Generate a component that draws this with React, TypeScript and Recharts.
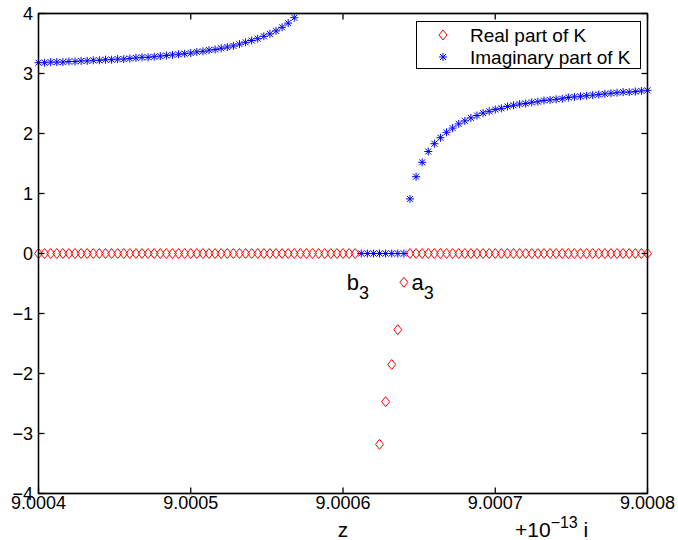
import React from 'react';
import { ScatterChart, Scatter, XAxis, YAxis, Label, ReferenceLine } from 'recharts';

// sample points along the real axis (z), step 4e-6
const Z_VALUES = [
  9.0004, 9.000404, 9.000408, 9.000412, 9.000416, 9.00042, 9.000424, 9.000428, 9.000432, 9.000436,
  9.00044, 9.000444, 9.000448, 9.000452, 9.000456, 9.00046, 9.000464, 9.000468, 9.000472, 9.000476,
  9.00048, 9.000484, 9.000488, 9.000492, 9.000496, 9.0005, 9.000504, 9.000508, 9.000512, 9.000516,
  9.00052, 9.000524, 9.000528, 9.000532, 9.000536, 9.00054, 9.000544, 9.000548, 9.000552, 9.000556,
  9.00056, 9.000564, 9.000568, 9.000572, 9.000576, 9.00058, 9.000584, 9.000588, 9.000592, 9.000596,
  9.0006, 9.000604, 9.000608, 9.000612, 9.000616, 9.00062, 9.000624, 9.000628, 9.000632, 9.000636,
  9.00064, 9.000644, 9.000648, 9.000652, 9.000656, 9.00066, 9.000664, 9.000668, 9.000672, 9.000676,
  9.00068, 9.000684, 9.000688, 9.000692, 9.000696, 9.0007, 9.000704, 9.000708, 9.000712, 9.000716,
  9.00072, 9.000724, 9.000728, 9.000732, 9.000736, 9.00074, 9.000744, 9.000748, 9.000752, 9.000756,
  9.00076, 9.000764, 9.000768, 9.000772, 9.000776, 9.00078, 9.000784, 9.000788, 9.000792, 9.000796,
  9.0008,
];

// null = off the plot
const REAL_PART = [
  0, 0, 0, 0, 0, 0, 0, 0, 0, 0,
  0, 0, 0, 0, 0, 0, 0, 0, 0, 0,
  0, 0, 0, 0, 0, 0, 0, 0, 0, 0,
  0, 0, 0, 0, 0, 0, 0, 0, 0, 0,
  0, 0, 0, 0, 0, 0, 0, 0, 0, 0,
  0, 0, 0, null, null, null, -3.18, -2.47, -1.85, -1.27,
  -0.48, 0, 0, 0, 0, 0, 0, 0, 0, 0,
  0, 0, 0, 0, 0, 0, 0, 0, 0, 0,
  0, 0, 0, 0, 0, 0, 0, 0, 0, 0,
  0, 0, 0, 0, 0, 0, 0, 0, 0, 0,
  0,
];

const IMAG_PART = [
  3.18, 3.18, 3.19, 3.19, 3.19, 3.20, 3.20, 3.21, 3.21, 3.22,
  3.22, 3.23, 3.23, 3.24, 3.24, 3.25, 3.26, 3.27, 3.27, 3.28,
  3.29, 3.30, 3.31, 3.32, 3.33, 3.34, 3.36, 3.37, 3.39, 3.40,
  3.42, 3.44, 3.46, 3.49, 3.52, 3.55, 3.58, 3.62, 3.66, 3.71,
  3.77, 3.84, 3.93, null, null, null, null, null, null, null,
  null, null, null, 0, 0, 0, 0, 0, 0, 0,
  0, 0.91, 1.28, 1.52, 1.70, 1.83, 1.93, 2.02, 2.09, 2.16,
  2.21, 2.26, 2.30, 2.34, 2.37, 2.40, 2.42, 2.45, 2.47, 2.49,
  2.50, 2.52, 2.53, 2.55, 2.56, 2.57, 2.58, 2.60, 2.61, 2.62,
  2.63, 2.64, 2.65, 2.66, 2.67, 2.68, 2.69, 2.69, 2.70, 2.71,
  2.72,
];

const X_DOMAIN = [9.0004, 9.0008];
const Y_DOMAIN = [-4, 4];
const X_TICKS = [9.0004, 9.0005, 9.0006, 9.0007, 9.0008];
const Y_TICKS = [-4, -3, -2, -1, 0, 1, 2, 3, 4];

const SERIES_NAMES = ['Real part of K', 'Imaginary part of K'];

// text annotations near the branch points
const ANNOTATIONS = [
  { z: 9.0006025, k: -0.6, main: 'b', sub: '3' },
  { z: 9.000645, k: -0.6, main: 'a', sub: '3' },
];

const FONT = '"Liberation Sans", Arial, Helvetica, sans-serif';
const RED = '#ff0000';
const BLUE = '#0000ff';
const TICK_LEN = 6;

// half-pixel offsets keep the frame crisp
const W = 678;
const H = 540;
const MARGIN = { top: 13.5, right: 30.5, bottom: 0, left: 0 };
const X_AXIS_H = 46.5;
const Y_AXIS_W = 38.5;
const PLOT_TOP = MARGIN.top;
const PLOT_RIGHT = W - MARGIN.right;
const PLOT_BOTTOM = H - MARGIN.bottom - X_AXIS_H;
const FRAME = { stroke: '#000', strokeWidth: 1.3 };

const toPoints = (vals: (number | null)[]) =>
  Z_VALUES.map((z, i) => ({ z, k: vals[i] })).filter((d) => d.k !== null);

const realData = toPoints(REAL_PART);
const imagData = toPoints(IMAG_PART);

const Diamond = ({ cx, cy }: any) => (
  <polygon
    points={`${cx},${cy - 5} ${cx + 4},${cy} ${cx},${cy + 5} ${cx - 4},${cy}`}
    fill="none"
    stroke={RED}
    strokeWidth={1}
  />
);

const Star = ({ cx, cy }: any) => (
  <g stroke={BLUE} strokeWidth={1}>
    <line x1={cx - 4} y1={cy} x2={cx + 4} y2={cy} />
    <line x1={cx} y1={cy - 4} x2={cx} y2={cy + 4} />
    <line x1={cx - 3} y1={cy - 3} x2={cx + 3} y2={cy + 3} />
    <line x1={cx - 3} y1={cy + 3} x2={cx + 3} y2={cy - 3} />
  </g>
);

const AnnotationText = ({ cx, cy, payload }: any) => (
  <text x={cx} y={cy} fontSize={22} fontFamily={FONT} fill="#000">
    {payload.main}
    <tspan fontSize={18} dy={9}>{payload.sub}</tspan>
  </text>
);

// inward ticks on both opposite sides, MATLAB style
const BottomTick = ({ x, y, payload }: any) => (
  <g>
    <line x1={x} y1={y} x2={x} y2={y - TICK_LEN} {...FRAME} />
    <line x1={x} y1={PLOT_TOP} x2={x} y2={PLOT_TOP + TICK_LEN} {...FRAME} />
    <text x={x} y={y + 1.5} dy="0.75em" textAnchor="middle" fontSize={18} fontFamily={FONT} fill="#000">
      {Number(payload.value).toFixed(4)}
    </text>
  </g>
);

const LeftTick = ({ x, y, payload }: any) => (
  <g>
    <line x1={x} y1={y} x2={x + TICK_LEN} y2={y} {...FRAME} />
    <line x1={PLOT_RIGHT} y1={y} x2={PLOT_RIGHT - TICK_LEN} y2={y} {...FRAME} />
    <text x={x - 5.5} y={y} dy="0.36em" textAnchor="end" fontSize={18} fontFamily={FONT} fill="#000">
      {String(payload.value).replace('-', '\u2212')}
    </text>
  </g>
);

const LegendBox = () => (
  <svg width={225} height={48} style={{ position: 'absolute', left: 416, top: 21 }}>
    <rect x={0.5} y={0.5} width={224} height={47} fill="#fff" stroke="#000" strokeWidth={1} />
    <Diamond cx={27} cy={14} />
    <Star cx={27} cy={36} />
    <text x={54} y={21} fontSize={19} fontFamily={FONT} fill="#000">{SERIES_NAMES[0]}</text>
    <text x={54} y={43} fontSize={19} fontFamily={FONT} fill="#000">{SERIES_NAMES[1]}</text>
  </svg>
);

// axes box drawn on top so all four sides are always there
const FrameBox = () => (
  <svg width={W} height={H} style={{ position: 'absolute', left: 0, top: 0, pointerEvents: 'none' }}>
    <rect
      x={Y_AXIS_W}
      y={PLOT_TOP}
      width={PLOT_RIGHT - Y_AXIS_W}
      height={PLOT_BOTTOM - PLOT_TOP}
      fill="none"
      {...FRAME}
    />
  </svg>
);

export default function App() {
  return (
    <div style={{ position: 'absolute', left: 0, top: 0, width: W, height: H, background: '#fff' }}>
      <ScatterChart width={W} height={H} margin={MARGIN}>
        <XAxis
          type="number"
          dataKey="z"
          domain={X_DOMAIN}
          ticks={X_TICKS}
          height={X_AXIS_H}
          tickSize={0}
          tickMargin={0}
          axisLine={FRAME}
          tickLine={false}
          tick={<BottomTick />}
          interval={0}
        >
          <Label
            content={() => (
              <text x={343} y={537} fontSize={21} fontFamily={FONT} fill="#000" textAnchor="middle">z</text>
            )}
          />
          <Label
            content={() => (
              <text x={515} y={537} fontSize={21} fontFamily={FONT} fill="#000">
                +10
                <tspan fontSize={16} dy={-9}>{'\u221213'}</tspan>
                <tspan dy={9}>{' i'}</tspan>
              </text>
            )}
          />
        </XAxis>
        <YAxis
          type="number"
          dataKey="k"
          domain={Y_DOMAIN}
          ticks={Y_TICKS}
          width={Y_AXIS_W}
          tickSize={0}
          tickMargin={0}
          axisLine={FRAME}
          tickLine={false}
          tick={<LeftTick />}
          interval={0}
        />
        <ReferenceLine x={X_DOMAIN[1]} {...FRAME} />
        <ReferenceLine y={Y_DOMAIN[1]} {...FRAME} />
        <Scatter name={SERIES_NAMES[0]} data={realData} shape={Diamond} isAnimationActive={false} />
        <Scatter name={SERIES_NAMES[1]} data={imagData} shape={Star} isAnimationActive={false} />
        <Scatter data={ANNOTATIONS} shape={AnnotationText} isAnimationActive={false} />
      </ScatterChart>
      <FrameBox />
      <LegendBox />
    </div>
  );
}
